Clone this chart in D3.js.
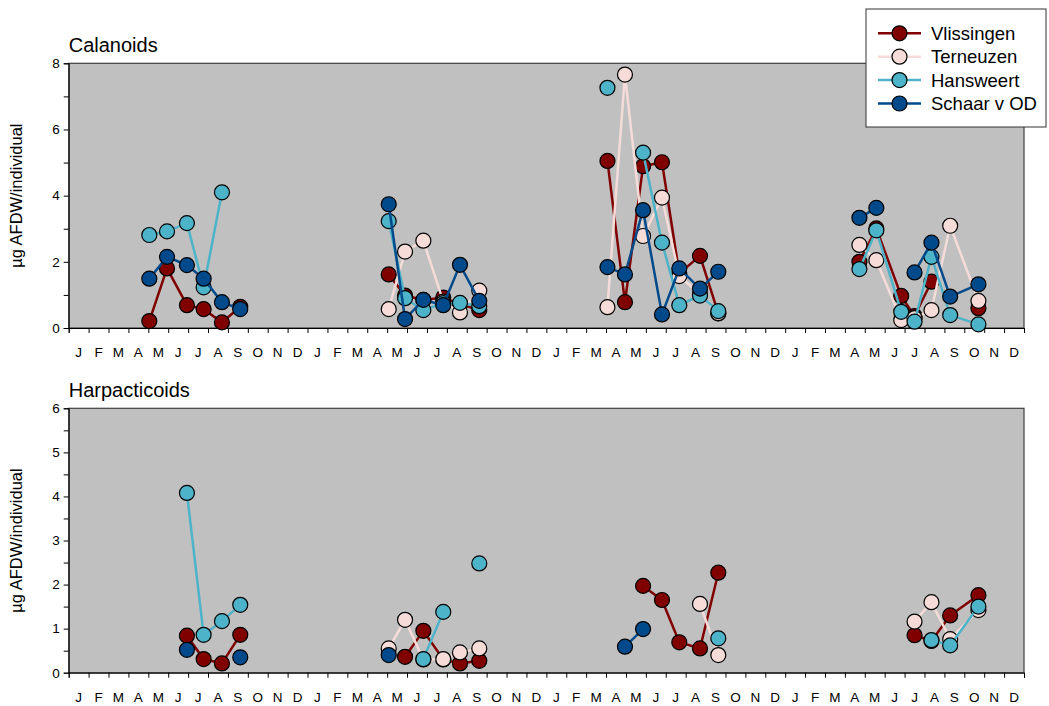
<!DOCTYPE html>
<meta charset="utf-8">
<style>
body { margin: 0; background: #fff; }
svg { font-family: "Liberation Sans", Arial, sans-serif; }
.line { fill: none; stroke-width: 2.5px; }
.dot { stroke: #000; stroke-width: 1.2px; }
</style>
<svg width="1049" height="706"></svg>
<script src="https://cdn.jsdelivr.net/npm/d3@7"></script>
<script>

var months = ["J","F","M","A","M","J","J","A","S","O","N","D"];
var stations = ["Vlissingen", "Terneuzen", "Hansweert", "Schaar v OD"];
var stationColors = ["#800000", "#f5dcd9", "#4db3c9", "#004a8c"];

// sampling dates, in months since the start of the first year
var sampleMonth = [4.05, 4.94, 5.94, 6.78, 7.70, 8.62,
  16.08, 16.90, 17.82, 18.82, 19.66, 20.63,
  27.07, 27.95, 28.86, 29.81, 30.68, 31.72, 32.64,
  39.73, 40.58, 41.83, 42.50, 43.35, 44.29, 45.71];

var calVlissingen = [0.21, 1.80, 0.69, 0.57, 0.17, 0.64,
  1.62, 0.98, 0.85, 0.92, 0.72, 0.54,
  5.05, 0.78, 4.89, 5.01, 1.65, 2.18, 0.44,
  2.00, 3.01, 0.97, 0.36, 1.40, null, 0.60];
var calTerneuzen = [null, null, null, null, null, null,
  0.57, 2.31, 2.64, 0.80, 0.47, 1.13,
  0.63, 7.66, 2.78, 3.94, 1.57, 1.02, 0.45,
  2.51, 2.05, 0.24, 0.30, 0.54, 3.09, 0.82];
var calHansweert = [2.81, 2.92, 3.17, 1.23, 4.10, null,
  3.23, 0.90, 0.54, 0.75, 0.76, 0.66,
  7.26, null, 5.30, 2.58, 0.69, 0.98, 0.51,
  1.78, 2.95, 0.49, 0.19, 2.15, 0.39, 0.11];
var calSchaar = [1.49, 2.15, 1.90, 1.49, 0.78, 0.57,
  3.74, 0.27, 0.85, 0.69, 1.91, 0.82,
  1.84, 1.62, 3.56, 0.41, 1.80, 1.19, 1.70,
  3.33, 3.63, null, 1.68, 2.58, 0.95, 1.32];

var harVlissingen = [null, null, 0.84, 0.31, 0.21, 0.86,
  null, 0.36, 0.95, 0.30, 0.21, 0.27,
  null, null, 1.97, 1.65, 0.69, 0.55, 2.27,
  null, null, null, 0.85, 0.72, 1.30, 1.76];
var harTerneuzen = [null, null, null, null, null, null,
  0.55, 1.20, 0.30, 0.31, 0.46, 0.55,
  null, null, null, null, null, 1.56, 0.40,
  null, null, null, 1.16, 1.60, 0.76, 1.42];
var harHansweert = [null, null, 4.08, 0.86, 1.17, 1.54,
  null, null, 0.31, 1.38, null, 2.48,
  null, null, null, null, null, null, 0.78,
  null, null, null, null, 0.74, 0.62, 1.50];
var harSchaar = [null, null, 0.52, null, null, 0.35,
  0.40, null, null, null, null, null,
  null, 0.59, 0.99, null, null, null, null,
  null, null, null, null, null, null, null];

var panels = [
  {title: "Calanoids", top: 63.3, bottom: 328, max: 8, labelStep: 2, minorStep: 1,
   series: [calVlissingen, calTerneuzen, calHansweert, calSchaar]},
  {title: "Harpacticoids", top: 408.3, bottom: 672.7, max: 6, labelStep: 1, minorStep: 0.5,
   series: [harVlissingen, harTerneuzen, harHansweert, harSchaar]}
];

var svg = d3.select("svg");
var left = 68.7, right = 1024;

var x = d3.scaleLinear().domain([0, 48]).range([left, right]);

panels.forEach(function(p) {
  var y = d3.scaleLinear().domain([0, p.max]).range([p.bottom, p.top]);
  var g = svg.append("g");

  g.append("rect")
      .attr("x", left).attr("y", p.top)
      .attr("width", right - left).attr("height", p.bottom - p.top)
      .attr("fill", "#c0c0c0")
      .attr("stroke", "#404040")
      .attr("stroke-width", 1.2);

  // y axis
  var yAxis = g.append("g")
      .attr("transform", "translate(" + left + ",0)")
      .call(d3.axisLeft(y)
        .tickValues(d3.range(0, p.max + 0.001, p.minorStep))
        .tickSize(5)
        .tickFormat(function(d) { return d % p.labelStep === 0 ? d : ""; }));
  yAxis.select(".domain").attr("stroke", "#000");
  yAxis.selectAll("text").attr("font-size", 13.5).attr("font-family", "Liberation Sans, Arial, sans-serif")
      .attr("fill", "#000").attr("x", -9);

  // x axis: ticks at month boundaries, labels in between
  var xAxis = g.append("g")
      .attr("transform", "translate(0," + p.bottom + ")")
      .call(d3.axisBottom(x).tickValues(d3.range(0, 49)).tickSize(5).tickFormat(""));
  xAxis.select(".domain").attr("stroke", "#000");

  g.selectAll(".mlabel")
    .data(d3.range(48))
    .enter().append("text")
      .attr("x", function(d) { return x(d + 0.5); })
      .attr("y", p.bottom + 29)
      .attr("text-anchor", "middle")
      .attr("font-size", 13.5)
      .text(function(d) { return months[d % 12]; });

  g.append("text")
      .attr("x", left)
      .attr("y", p.top - 11)
      .attr("font-size", 20)
      .text(p.title);

  g.append("text")
      .attr("transform", "translate(22," + (p.top + p.bottom) / 2 + ") rotate(-90)")
      .attr("text-anchor", "middle")
      .attr("font-size", 16.5)
      .text("µg AFDW/individual");

  var line = d3.line()
      .defined(function(d) { return d.v != null; })
      .x(function(d) { return x(d.m); })
      .y(function(d) { return y(d.v); });

  p.series.forEach(function(vals, si) {
    var pts = sampleMonth.map(function(m, i) { return {m: m, v: vals[i], c: Math.floor(m / 12)}; });
    var groups = d3.groups(pts, function(d) { return d.c; });
    groups.forEach(function(grp) {
      g.append("path")
          .attr("class", "line")
          .attr("stroke", stationColors[si])
          .attr("d", line(grp[1]));
    });
    g.selectAll(".dot" + si)
      .data(pts.filter(function(d) { return d.v != null; }))
      .enter().append("circle")
        .attr("class", "dot")
        .attr("cx", function(d) { return x(d.m); })
        .attr("cy", function(d) { return y(d.v); })
        .attr("r", 7.5)
        .attr("fill", stationColors[si]);
  });
});

// legend
var legend = svg.append("g");
legend.append("rect")
    .attr("x", 866).attr("y", 9)
    .attr("width", 180).attr("height", 118)
    .attr("fill", "#fff")
    .attr("stroke", "#333")
    .attr("stroke-width", 1);

var item = legend.selectAll(".item")
  .data(stations)
  .enter().append("g")
    .attr("transform", function(d, i) { return "translate(0," + (33.3 + i * 23.4) + ")"; });

item.append("line")
    .attr("x1", 878).attr("x2", 921)
    .attr("stroke", function(d, i) { return stationColors[i]; })
    .attr("stroke-width", 2.5);
item.append("circle")
    .attr("class", "dot")
    .attr("cx", 899.5).attr("r", 7.5)
    .attr("fill", function(d, i) { return stationColors[i]; });
item.append("text")
    .attr("x", 931)
    .attr("dy", "0.36em")
    .attr("font-size", 18.5)
    .text(function(d) { return d; });

</script>
